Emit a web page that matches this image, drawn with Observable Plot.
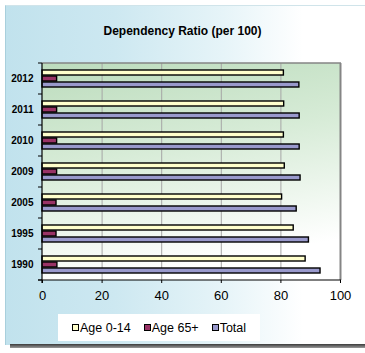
<!DOCTYPE html>
<html>
<head>
<meta charset="utf-8">
<script src="https://cdn.jsdelivr.net/npm/d3@7"></script>
<script src="https://cdn.jsdelivr.net/npm/@observablehq/plot@0.6"></script>
<style>
  html, body { margin: 0; padding: 0; background: #fff; }
  #wrap { position: relative; width: 365px; height: 353px; overflow: hidden; font-family: "Liberation Sans", Arial, sans-serif; }
  #bg { position: absolute; left: 5px; top: 5px; width: 362px; height: 339px;
        background: linear-gradient(to right, #c1e2ed 0%, #cde8f1 30%, #e6f4f8 60%, #ffffff 82%);
        border-left: 1px solid #a8cfdc; border-top: 1px solid #d0e4ea; }
  #shadow { position: absolute; left: 10px; top: 344px; width: 355px; height: 4px;
        background: linear-gradient(to bottom, #3a3a3a, #9a9a9a); }
  #title { position: absolute; left: 0; top: 24px; width: 365px; text-align: center;
           font-weight: bold; font-size: 12px; line-height: 15px; color: #000; }
  #chart { position: absolute; left: 0; top: 0; }
  #legend { position: absolute; left: 58px; top: 314px; width: 202px; height: 27px; background: #fff;
            display: flex; align-items: center; padding-left: 14px; box-sizing: border-box;
            font-size: 12.5px; color: #000; }
  .item { display: flex; align-items: center; margin-right: 13px; }
  .sw { width: 5px; height: 5px; border: 1.5px solid #000; margin-right: 1px; }
  g[aria-label^="x-axis"] text { font-size: 13px; }
  g[aria-label^="fy-axis"] text { font-size: 10px; font-weight: bold; }
</style>
</head>
<body>
<div id="wrap">
  <div id="bg"></div>
  <div id="shadow"></div>
  <div id="title">Dependency Ratio (per 100)</div>
  <div id="chart"></div>
  <div id="legend"></div>
</div>
<script>
const years = ["2012", "2011", "2010", "2009", "2005", "1995", "1990"];
const age0to14 = [81.0, 81.1, 81.0, 81.3, 80.4, 84.3, 88.3];
const age65plus = [4.9, 4.9, 4.9, 4.9, 4.7, 4.7, 5.0];
const total = [86.2, 86.3, 86.3, 86.6, 85.3, 89.4, 93.3];
const seriesNames = ["Age 0-14", "Age 65+", "Total"];
const seriesColors = ["#ffffcc", "#993366", "#9999cc"];
const xTicks = [0, 20, 40, 60, 80, 100];
const gridValues = [20, 40, 60, 80];

const seriesValues = [age0to14, age65plus, total];
const rows = years.flatMap((yr, i) =>
  seriesNames.map((s, k) => ({ year: yr, series: s, value: seriesValues[k][i] }))
);

const plot = Plot.plot({
  width: 365,
  height: 310,
  marginTop: 60,
  marginBottom: 28,
  marginLeft: 42,
  marginRight: 25,
  style: { background: "transparent", fontFamily: "'Liberation Sans', Arial, sans-serif", color: "#000", overflow: "visible" },
  facet: { data: rows, y: "year" },
  fy: { domain: years, padding: 0, label: null, axis: "left", tickSize: 0, tickPadding: 9 },
  y: { domain: seriesNames, paddingInner: 0.17, paddingOuter: 0.85, axis: null },
  x: { domain: [0, 100], ticks: xTicks, tickSize: 3, tickPadding: 7, label: null },
  color: { domain: seriesNames, range: seriesColors },
  marks: [
    Plot.ruleX(gridValues, { stroke: "#a6a6a6", strokeWidth: 1 }),
    Plot.barX(rows, { x: "value", y: "series", fill: "series", stroke: "#000", strokeWidth: 1.4 })
  ]
});

document.getElementById("chart").appendChild(plot);

// decorations using the library's scales
const svg = d3.select(plot);
const xs = plot.scale("x");
const fys = plot.scale("fy");
const xAt = v => xs.apply ? xs.apply(v) : (xs.range[0] + (v - xs.domain[0]) / (xs.domain[1] - xs.domain[0]) * (xs.range[1] - xs.range[0]));
const x0 = xAt(0), x1 = xAt(100);
const step = fys.step || fys.bandwidth;
const bandStart = v => fys.apply ? fys.apply(v) : (fys.range[0] + fys.domain.indexOf(v) * step);
const yTop = bandStart(years[0]);
const yBot = bandStart(years[years.length - 1]) + fys.bandwidth;

const defs = svg.insert("defs", ":first-child");
const grad = defs.append("linearGradient").attr("id", "plotbg").attr("x1", 0).attr("y1", 0).attr("x2", 0.25).attr("y2", 1);
grad.append("stop").attr("offset", "0%").attr("stop-color", "#bcdcbd");
grad.append("stop").attr("offset", "45%").attr("stop-color", "#d6ebd6");
grad.append("stop").attr("offset", "100%").attr("stop-color", "#ffffff");

svg.insert("rect", "defs + *")
  .attr("x", x0).attr("y", yTop).attr("width", x1 - x0).attr("height", yBot - yTop)
  .attr("fill", "url(#plotbg)");

const deco = svg.append("g");
// frame top & right (gray)
deco.append("line").attr("x1", x0).attr("x2", x1 + 1).attr("y1", yTop).attr("y2", yTop).attr("stroke", "#858585").attr("stroke-width", 1.6);
deco.append("line").attr("x1", x1 + 0.5).attr("x2", x1 + 0.5).attr("y1", yTop).attr("y2", yBot).attr("stroke", "#858585").attr("stroke-width", 2);
// axis lines (black)
deco.append("line").attr("x1", x0).attr("x2", x0).attr("y1", yTop).attr("y2", yBot + 3).attr("stroke", "#000").attr("stroke-width", 1.2);
deco.append("line").attr("x1", x0 - 4).attr("x2", x1 + 1).attr("y1", yBot).attr("y2", yBot).attr("stroke", "#000").attr("stroke-width", 1.2);
// category boundary ticks on the left axis
const bounds = years.map(bandStart).concat([yBot]);
deco.selectAll("line.bt").data(bounds).join("line").attr("class", "bt")
  .attr("x1", x0 - 4).attr("x2", x0).attr("y1", d => d).attr("y2", d => d)
  .attr("stroke", "#000").attr("stroke-width", 1);

// legend
const legend = d3.select("#legend");
seriesNames.forEach((s, k) => {
  const it = legend.append("div").attr("class", "item");
  it.append("div").attr("class", "sw").style("background", seriesColors[k]);
  it.append("span").text(s);
});
</script>
</body>
</html>
